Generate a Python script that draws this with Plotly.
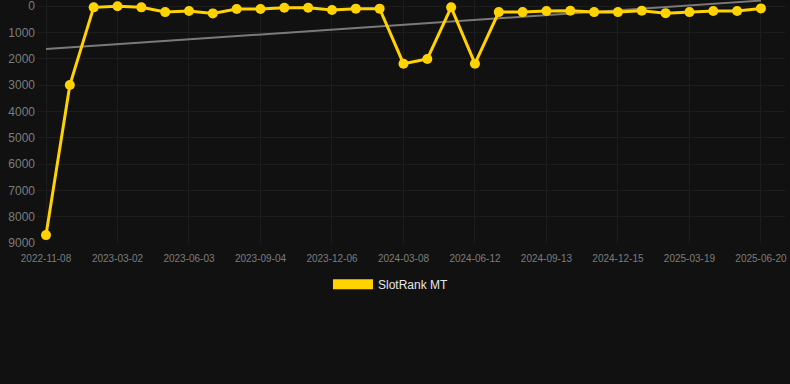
import numpy as np
import plotly.graph_objects as go

dates = [
    "2022-11-08", "2022-12-16", "2023-01-24", "2023-03-02", "2023-04-02", "2023-05-03",
    "2023-06-03", "2023-07-04", "2023-08-04", "2023-09-04", "2023-10-05", "2023-11-05",
    "2023-12-06", "2024-01-06", "2024-02-06", "2024-03-08", "2024-04-08", "2024-05-10",
    "2024-06-12", "2024-07-13", "2024-08-13", "2024-09-13", "2024-10-14", "2024-11-14",
    "2024-12-15", "2025-01-15", "2025-02-16", "2025-03-19", "2025-04-19", "2025-05-20",
    "2025-06-20",
]
rank = [
    8700, 3000, 50, 10, 50, 230, 190, 280, 115, 115, 65, 65, 150, 100, 100,
    2190, 2010, 50, 2190, 230, 230, 190, 180, 230, 230, 180, 270, 230, 190, 190, 90,
]
tick_labels = dates[::3]
y_ticks = [0, 1000, 2000, 3000, 4000, 5000, 6000, 7000, 8000, 9000]
series_name = "SlotRank MT"

idx = np.arange(len(rank))
slope, intercept = np.polyfit(idx, rank, 1)
trend = (slope * idx + intercept).tolist()

gold = "#FFD200"
fig = go.Figure()
fig.add_trace(go.Scatter(
    x=dates, y=trend, mode="lines",
    line=dict(color="#7a7a7a", width=2),
    showlegend=False, hoverinfo="skip",
))
fig.add_trace(go.Scatter(
    x=dates, y=rank, mode="lines+markers",
    line=dict(color=gold, width=3),
    marker=dict(color=gold, size=10),
    showlegend=False, name=series_name,
))
fig.add_trace(go.Scatter(
    x=[None], y=[None], mode="lines",
    line=dict(color=gold, width=10),
    name=series_name, showlegend=True,
))

fig.update_layout(
    width=790, height=384,
    paper_bgcolor="#111111", plot_bgcolor="#111111",
    margin=dict(l=38, r=5, t=0, b=141),
    font=dict(family="Liberation Sans, Arial, sans-serif"),
    showlegend=True,
    legend=dict(
        orientation="h", xref="container", yref="container",
        x=0.4949, xanchor="center", y=0.26, yanchor="middle",
        font=dict(color="#e6e6e6", size=12), itemwidth=40,
        bgcolor="rgba(0,0,0,0)",
    ),
)
fig.update_xaxes(
    type="category", categoryorder="array", categoryarray=dates,
    range=[-0.336, 31.01],
    tickmode="array", tickvals=tick_labels, ticktext=tick_labels,
    tickfont=dict(color="#7c7c7c", size=10),
    showgrid=True, gridcolor="#1d1d1d", gridwidth=1,
    zeroline=False, showline=False, ticks="", ticklabelstandoff=8,
    ticklabeloverflow="allow",
)
fig.update_yaxes(
    range=[9000, -229],
    tickmode="array", tickvals=y_ticks, ticktext=[str(v) for v in y_ticks],
    tickfont=dict(color="#7c7c7c", size=12),
    showgrid=True, gridcolor="#1d1d1d", gridwidth=1,
    zeroline=False, showline=False, ticks="", ticklabelstandoff=2,
    ticklabeloverflow="allow",
)

fig.write_html(
    "out.html",
    config={"displayModeBar": False},
    post_script="document.body.style.margin='0';document.body.style.background='#111111';",
)
